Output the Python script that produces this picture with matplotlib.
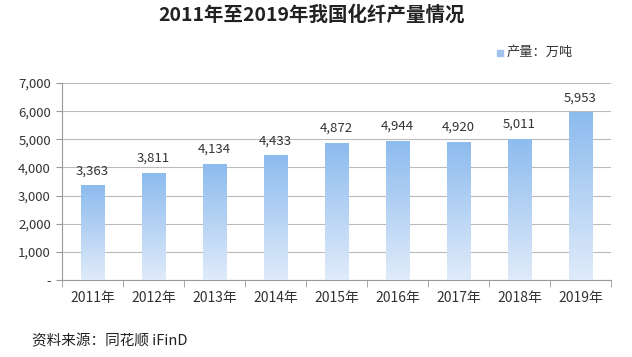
import matplotlib
matplotlib.use("Agg")
import matplotlib.pyplot as plt
import numpy as np
from matplotlib.colors import LinearSegmentedColormap
from matplotlib.patches import Rectangle

plt.rcParams['font.family'] = ['Noto Sans CJK SC', 'DejaVu Sans']

years = ['2011年', '2012年', '2013年', '2014年', '2015年', '2016年', '2017年', '2018年', '2019年']
output = [3363, 3811, 4134, 4433, 4872, 4944, 4920, 5011, 5953]
yticks = [0, 1000, 2000, 3000, 4000, 5000, 6000, 7000]

fig = plt.figure(figsize=(6.32, 3.57), dpi=100)
ax = fig.add_axes([62 / 632, 1 - 280 / 357, 549 / 632, 197 / 357])

cmap = LinearSegmentedColormap.from_list('bar', ['#e0ebfa', '#8cbbee'])
grad = np.linspace(0, 1, 256).reshape(-1, 1)
x = np.arange(len(years))
width = 0.39
bars = ax.bar(x, output, width=width, color='none', zorder=3)
for b in bars:
    x0, y0 = b.get_x(), b.get_y()
    w, h = b.get_width(), b.get_height()
    im = ax.imshow(grad, cmap=cmap, origin='lower', aspect='auto',
                   extent=[x0, x0 + w, 0, h], zorder=3)
    clip = Rectangle((x0, y0), w, h, transform=ax.transData)
    im.set_clip_path(clip)

for xi, v in zip(x, output):
    ax.text(xi, v + 280, f'{v:,}', ha='center', va='bottom', fontsize=9.5, color='#333333')

ax.set_xlim(-0.5, len(years) - 0.5)
ax.set_ylim(0, 7000)
ax.set_yticks(yticks)
ax.set_yticklabels(['-' if t == 0 else f'{t:,}' for t in yticks], fontsize=9.5, color='#333333')
ax.set_xticks(x)
ax.set_xticklabels(years, fontsize=10, color='#333333')
ax.set_xticks(np.arange(len(years) + 1) - 0.5, minor=True)
ax.tick_params(axis='x', which='major', length=0, pad=8)
ax.tick_params(axis='x', which='minor', length=5, color='#999999')
ax.tick_params(axis='y', length=4, color='#999999', pad=4)
ax.grid(axis='y', color='#bbbbbb', linewidth=0.8, zorder=0)
for s in ['top', 'right']:
    ax.spines[s].set_visible(False)
for s in ['left', 'bottom']:
    ax.spines[s].set_color('#999999')

fig.text(312 / 632, 1 - 15 / 357, '2011年至2019年我国化纤产量情况', ha='center', va='center',
         fontsize=14, fontweight='bold', color='#222222')
fig.patches.append(Rectangle((497 / 632, 1 - 56 / 357), 6 / 632, 6 / 357,
                             transform=fig.transFigure, color='#9fc3ee'))
fig.text(507 / 632, 1 - 52 / 357, '产量：万吨', ha='left', va='center', fontsize=9.5, color='#333333')
fig.text(32 / 632, 1 - 341 / 357, '资料来源：同花顺 iFinD', ha='left', va='center',
         fontsize=10.5, color='#222222')

fig.savefig('out.png', dpi=100)
